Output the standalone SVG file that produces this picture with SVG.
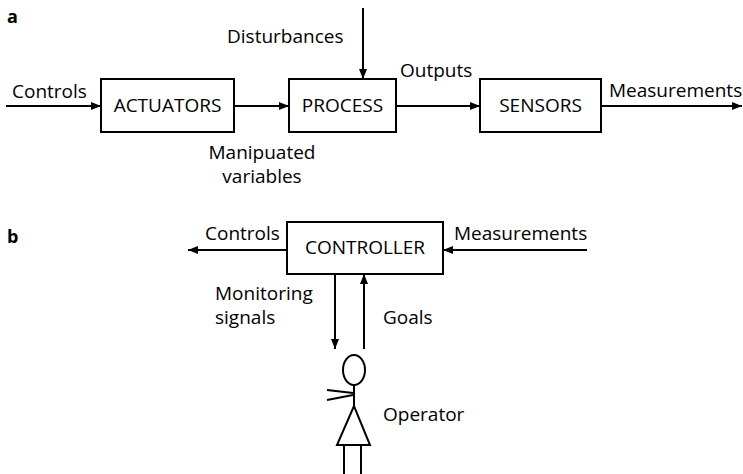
<svg xmlns="http://www.w3.org/2000/svg" width="743" height="474" viewBox="0 0 743 474">
  <style>
    .box { fill: #fff; stroke: #000; stroke-width: 2; }
    .line { fill: none; stroke: #000; stroke-width: 2; }
    .arr { fill: none; stroke: #000; stroke-width: 2; marker-end: url(#head); }
    text { font-family: "Open Sans", "Liberation Sans", sans-serif; font-size: 19px; fill: #000; }
    .lbl { font-weight: bold; font-size: 18px; }
    .mid { text-anchor: middle; }
  </style>
  <defs>
    <marker id="head" viewBox="0 0 10 8" refX="10" refY="4" markerWidth="10" markerHeight="8" markerUnits="userSpaceOnUse" orient="auto">
      <path d="M0,0 L10,4 L0,8 Z" fill="#000"/>
    </marker>
  </defs>

  <!-- panel a: open-loop chain -->
  <text class="lbl" x="7" y="23">a</text>

  <g id="actuators">
    <rect class="box" x="101" y="79" width="133" height="53"/>
    <text class="mid" x="167.5" y="112">ACTUATORS</text>
  </g>
  <g id="process">
    <rect class="box" x="289" y="79" width="107" height="53"/>
    <text class="mid" x="342.5" y="112">PROCESS</text>
  </g>
  <g id="sensors">
    <rect class="box" x="480" y="79" width="121" height="53"/>
    <text class="mid" x="540.5" y="112">SENSORS</text>
  </g>

  <!-- panel b: supervisory loop -->
  <text class="lbl" x="7" y="243">b</text>

  <g id="controller">
    <rect class="box" x="287" y="222" width="156" height="52"/>
    <text class="mid" x="365" y="254">CONTROLLER</text>
  </g>

  <g id="operator">
    <ellipse class="line" cx="354" cy="370" rx="11" ry="15"/>
    <path class="line" d="M354,385 V406"/>
    <path class="line" d="M327,390 L353,393 M327,400 L353,395"/>
    <path class="line" d="M354,406 L337,445 H370 Z"/>
    <path class="line" d="M344,445 V474 M361,445 V474"/>
    <text x="383" y="421">Operator</text>
  </g>

  <g id="connectors">
    <path class="arr" d="M6,106 H101"/>
    <path class="arr" d="M234,106 H289"/>
    <path class="arr" d="M363,8 V79"/>
    <path class="arr" d="M396,106 H480"/>
    <path class="arr" d="M601,106 H742"/>
    <path class="arr" d="M287,250 H188"/>
    <path class="arr" d="M587,250 H443"/>
    <path class="arr" d="M335,274 V349"/>
    <path class="arr" d="M364,349 V274"/>

    <text x="12" y="98">Controls</text>
    <text x="227" y="43">Disturbances</text>
    <text x="400" y="77">Outputs</text>
    <text x="609" y="97">Measurements</text>
    <text class="mid" x="262" y="159">Manipuated</text>
    <text class="mid" x="262" y="183">variables</text>
    <text x="205" y="240">Controls</text>
    <text x="454" y="240">Measurements</text>
    <text x="215" y="300">Monitoring</text>
    <text x="215" y="324">signals</text>
    <text x="383" y="324">Goals</text>
  </g>
</svg>
